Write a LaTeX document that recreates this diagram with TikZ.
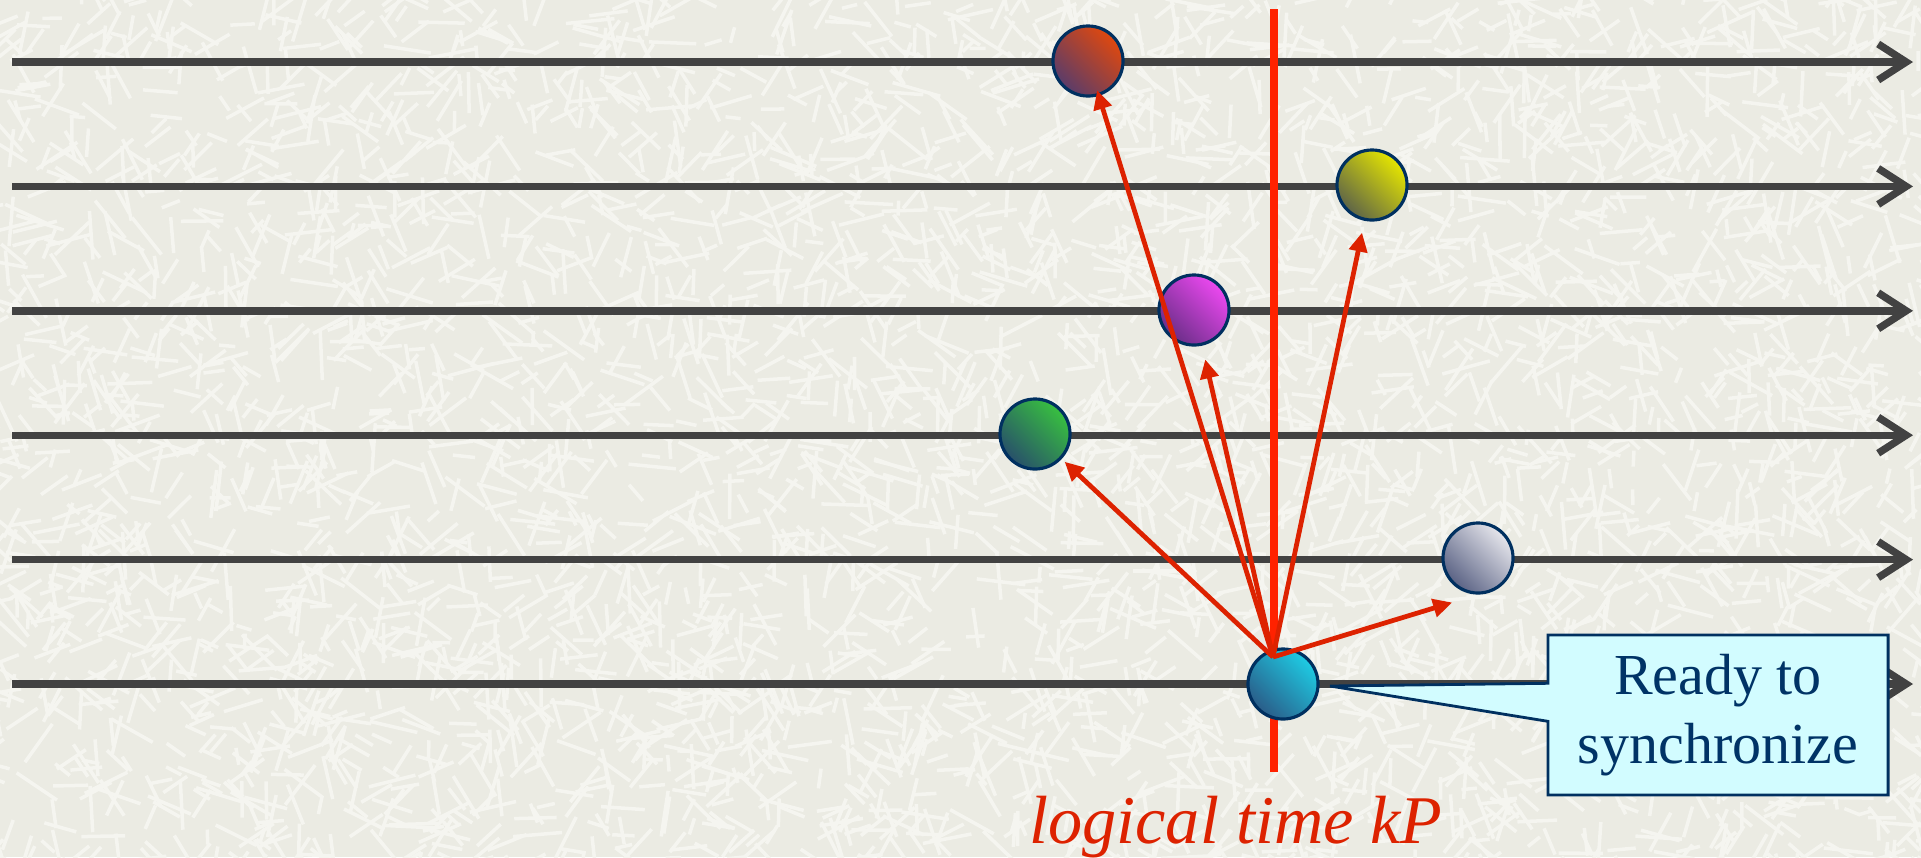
\documentclass[tikz,border=0pt]{standalone}
\usepackage{fontspec}
\setmainfont{Liberation Serif}
\usetikzlibrary{arrows.meta,shapes.callouts}
\definecolor{paper}{HTML}{EBEBE3}
\definecolor{fleck}{HTML}{F5F5F0}
\definecolor{axisgrey}{HTML}{424242}
\definecolor{syncred}{HTML}{FF2200}
\definecolor{msgred}{HTML}{DD2200}
\definecolor{rimblue}{HTML}{003060}
\definecolor{notebg}{HTML}{D2FCFF}
\definecolor{notetext}{HTML}{003366}
\definecolor{rdA}{HTML}{E0480E}\definecolor{rdB}{HTML}{5A3C6A}
\definecolor{ylA}{HTML}{E6E600}\definecolor{ylB}{HTML}{5E6448}
\definecolor{mgA}{HTML}{EC48F0}\definecolor{mgB}{HTML}{6A2E88}
\definecolor{gnA}{HTML}{38C040}\definecolor{gnB}{HTML}{28506A}
\definecolor{gyA}{HTML}{E6E6EC}\definecolor{gyB}{HTML}{5A6284}
\definecolor{cyA}{HTML}{1ECCE4}\definecolor{cyB}{HTML}{2A5C88}

\begin{document}
\begin{tikzpicture}[
  x=0.01cm,y=-0.01cm,
  proc/.style={draw=axisgrey,line width=2.1pt,-{Straight Barb[length=0.28cm,width=0.36cm]}},
  kline/.style={draw=syncred,line width=2.3pt},
  msg/.style={draw=msgred,line width=1.35pt,-{Triangle[length=0.19cm,width=0.18cm]}},
  event/.style 2 args={circle,draw=rimblue,line width=0.9pt,minimum size=0.7cm,inner sep=0pt,
                       top color=#1,bottom color=#2,shading angle=-45},
  note/.style={rectangle callout,draw=rimblue,line width=0.8pt,fill=notebg,text=notetext,
               align=center,minimum width=3.4cm,minimum height=1.6cm,
               callout pointer width=0.38cm,font=\fontsize{16.5}{19.5}\selectfont},
]
% paper background
\fill[paper] (0,0) rectangle (1921,857);
\useasboundingbox (0,0) rectangle (1921,857);
\begin{scope}
\clip (0,0) rectangle (1921,857);
\pgfmathsetseed{42}
\foreach \k in {1,...,4500}{
  \pgfmathsetmacro{\fx}{rnd*1961-20}
  \pgfmathsetmacro{\fy}{rnd*897-20}
  \pgfmathsetmacro{\fa}{rnd*180}
  \pgfmathsetmacro{\fl}{15+rnd*35}
  \draw[fleck,line width=1pt] (\fx,\fy) -- ++(\fa:\fl);
}
\end{scope}

% process time lines
\foreach \i in {0,...,5}{
  \coordinate (s\i) at (12,62+124.4*\i);
  \coordinate (e\i) at (1913,62+124.4*\i);
  \draw[proc] (s\i) -- (e\i);
}

% logical time kP
\coordinate (ktop) at (1274,9);
\coordinate (kbot) at (1274,772);
\draw[kline] (ktop) -- (kbot);

% events
\node[event={rdA}{rdB}] (rd) at (1088,61)  {};
\node[event={ylA}{ylB}] (yl) at (1372,185) {};
\node[event={mgA}{mgB}] (mg) at (1194,310) {};
\node[event={gnA}{gnB}] (gn) at (1035,434) {};
\node[event={gyA}{gyB}] (gy) at (1478,558) {};
\node[event={cyA}{cyB}] (cy) at (1283,684) {};

\coordinate (src) at (1273,657);
\draw[msg,shorten >=-0.06cm] (src) -- (rd);
\draw[msg,shorten >=0.12cm] (src) -- (yl);
\draw[msg,shorten >=0.14cm] (src) -- (mg);
\draw[msg,shorten >=0.04cm] (src) -- (gn);
\draw[msg,shorten >=0.27cm] (src) -- (gy.south);

\node[font=\fontsize{19.4}{22}\selectfont\itshape,text=msgred,anchor=base] (klabel) at (1236,843) {logical time kP};

\coordinate (tip) at (1330,686);
\node[note,callout absolute pointer={(tip)}] (sync) at (1718,715) {Ready to\\synchronize};
\end{tikzpicture}
\end{document}
